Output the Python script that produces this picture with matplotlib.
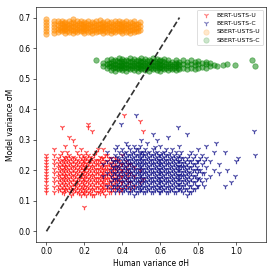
import matplotlib
matplotlib.use("Agg")
import matplotlib.pyplot as plt

# Human variance (x) columns and the model variance values (y) read in each column
bert_u = [
    (0.00, [0.13, 0.14, 0.15, 0.16, 0.17, 0.18, 0.19, 0.20, 0.21, 0.22, 0.23, 0.24, 0.25]),
    (0.04, [0.13, 0.145, 0.16, 0.175, 0.19, 0.205, 0.22, 0.235, 0.25, 0.27]),
    (0.06, [0.135, 0.15, 0.165, 0.18, 0.195, 0.21, 0.225, 0.24]),
    (0.07, [0.14, 0.155, 0.17, 0.185, 0.20, 0.215, 0.23, 0.25]),
    (0.08, [0.13, 0.145, 0.16, 0.175, 0.19, 0.205, 0.22, 0.235, 0.26, 0.34]),
    (0.09, [0.125, 0.14, 0.155, 0.17, 0.185, 0.20, 0.215, 0.23, 0.245]),
    (0.10, [0.135, 0.15, 0.165, 0.18, 0.195, 0.21, 0.225, 0.24, 0.28]),
    (0.11, [0.14, 0.155, 0.17, 0.185, 0.20, 0.215, 0.23, 0.245, 0.26]),
    (0.12, [0.13, 0.145, 0.16, 0.175, 0.19, 0.205, 0.22, 0.235, 0.25, 0.31]),
    (0.13, [0.12, 0.135, 0.15, 0.165, 0.18, 0.195, 0.21, 0.225, 0.24]),
    (0.14, [0.125, 0.14, 0.155, 0.17, 0.185, 0.20, 0.215, 0.23, 0.245, 0.30]),
    (0.15, [0.135, 0.15, 0.165, 0.18, 0.195, 0.21, 0.225, 0.24, 0.28]),
    (0.16, [0.13, 0.145, 0.16, 0.175, 0.19, 0.205, 0.22, 0.235, 0.26]),
    (0.17, [0.125, 0.14, 0.155, 0.17, 0.185, 0.20, 0.215, 0.23, 0.25]),
    (0.18, [0.12, 0.135, 0.15, 0.165, 0.18, 0.195, 0.21, 0.225, 0.24, 0.27]),
    (0.19, [0.13, 0.145, 0.16, 0.175, 0.19, 0.205, 0.22, 0.235, 0.25]),
    (0.20, [0.08, 0.125, 0.14, 0.155, 0.17, 0.185, 0.20, 0.215, 0.23, 0.245]),
    (0.21, [0.12, 0.135, 0.15, 0.165, 0.18, 0.195, 0.21, 0.225, 0.24, 0.26]),
    (0.22, [0.13, 0.145, 0.16, 0.175, 0.19, 0.205, 0.22, 0.235, 0.25, 0.34, 0.35]),
    (0.23, [0.125, 0.14, 0.155, 0.17, 0.185, 0.20, 0.215, 0.23, 0.245]),
    (0.24, [0.12, 0.135, 0.15, 0.165, 0.18, 0.195, 0.21, 0.225, 0.24, 0.33]),
    (0.25, [0.12, 0.14, 0.155, 0.17, 0.185, 0.20, 0.215, 0.23, 0.25]),
    (0.26, [0.13, 0.145, 0.16, 0.175, 0.19, 0.205, 0.22, 0.235, 0.26]),
    (0.27, [0.13, 0.145, 0.16, 0.175, 0.19, 0.205, 0.22, 0.235, 0.27]),
    (0.28, [0.125, 0.14, 0.155, 0.17, 0.185, 0.20, 0.215, 0.23, 0.245]),
    (0.29, [0.135, 0.15, 0.165, 0.18, 0.195, 0.21, 0.225, 0.24]),
    (0.30, [0.13, 0.145, 0.16, 0.175, 0.19, 0.205, 0.22, 0.24, 0.27]),
    (0.31, [0.12, 0.14, 0.155, 0.17, 0.185, 0.20, 0.215, 0.23, 0.25]),
    (0.32, [0.14, 0.155, 0.17, 0.185, 0.20, 0.215, 0.23, 0.25]),
    (0.33, [0.13, 0.145, 0.16, 0.175, 0.19, 0.205, 0.22, 0.24]),
    (0.34, [0.13, 0.15, 0.165, 0.18, 0.195, 0.21, 0.225, 0.24]),
    (0.35, [0.14, 0.155, 0.17, 0.185, 0.20, 0.215, 0.23]),
    (0.36, [0.14, 0.16, 0.175, 0.19, 0.205, 0.22, 0.24]),
    (0.37, [0.145, 0.165, 0.18, 0.20, 0.215, 0.235]),
    (0.38, [0.13, 0.15, 0.17, 0.19, 0.21, 0.23]),
    (0.39, [0.14, 0.16, 0.18, 0.20, 0.22]),
    (0.40, [0.14, 0.16, 0.18, 0.20, 0.22, 0.25]),
    (0.41, [0.38]),
    (0.42, [0.15, 0.17, 0.19, 0.21, 0.23]),
    (0.43, [0.16, 0.18, 0.20, 0.22]),
    (0.44, [0.14, 0.16, 0.19, 0.22]),
    (0.46, [0.15, 0.18, 0.21]),
    (0.49, [0.16, 0.20, 0.36]),
    (0.51, [0.17, 0.33]),
]

bert_c = [
    (0.30, [0.18, 0.22]),
    (0.32, [0.15, 0.19, 0.23, 0.26]),
    (0.34, [0.14, 0.16, 0.18, 0.20, 0.22, 0.24]),
    (0.35, [0.15, 0.17, 0.19, 0.21, 0.23]),
    (0.36, [0.13, 0.15, 0.17, 0.19, 0.21, 0.23, 0.25, 0.27]),
    (0.37, [0.14, 0.155, 0.17, 0.185, 0.20, 0.215, 0.23, 0.245, 0.28]),
    (0.38, [0.135, 0.15, 0.165, 0.18, 0.195, 0.21, 0.225, 0.24, 0.26]),
    (0.39, [0.35]),
    (0.40, [0.13, 0.145, 0.16, 0.175, 0.19, 0.205, 0.22, 0.235, 0.25, 0.27]),
    (0.41, [0.135, 0.15, 0.165, 0.18, 0.195, 0.21, 0.225, 0.24, 0.255]),
    (0.42, [0.14, 0.155, 0.17, 0.185, 0.20, 0.215, 0.23, 0.245, 0.26, 0.29]),
    (0.43, [0.13, 0.145, 0.16, 0.175, 0.19, 0.205, 0.22, 0.235, 0.25, 0.28]),
    (0.44, [0.13, 0.145, 0.16, 0.175, 0.19, 0.205, 0.22, 0.235, 0.25, 0.27]),
    (0.45, [0.135, 0.15, 0.165, 0.18, 0.195, 0.21, 0.225, 0.24, 0.255]),
    (0.46, [0.12, 0.14, 0.155, 0.17, 0.185, 0.20, 0.215, 0.23, 0.245, 0.26, 0.28]),
    (0.47, [0.13, 0.145, 0.16, 0.175, 0.19, 0.205, 0.22, 0.235, 0.25, 0.27, 0.38]),
    (0.48, [0.13, 0.145, 0.16, 0.175, 0.19, 0.205, 0.22, 0.235, 0.25, 0.27]),
    (0.49, [0.135, 0.15, 0.165, 0.18, 0.195, 0.21, 0.225, 0.24, 0.255, 0.28]),
    (0.50, [0.14, 0.155, 0.17, 0.185, 0.20, 0.215, 0.23, 0.245, 0.26, 0.30]),
    (0.51, [0.13, 0.145, 0.16, 0.175, 0.19, 0.205, 0.22, 0.235, 0.25, 0.26]),
    (0.52, [0.13, 0.145, 0.16, 0.175, 0.19, 0.205, 0.22, 0.235, 0.25, 0.27]),
    (0.53, [0.135, 0.15, 0.165, 0.18, 0.195, 0.21, 0.225, 0.24, 0.255, 0.29]),
    (0.54, [0.14, 0.155, 0.17, 0.185, 0.20, 0.215, 0.23, 0.245, 0.26]),
    (0.55, [0.13, 0.145, 0.16, 0.175, 0.19, 0.205, 0.22, 0.235, 0.25]),
    (0.56, [0.13, 0.145, 0.16, 0.175, 0.19, 0.205, 0.22, 0.235, 0.25, 0.27, 0.32]),
    (0.57, [0.135, 0.15, 0.165, 0.18, 0.195, 0.21, 0.225, 0.24, 0.255, 0.275]),
    (0.58, [0.14, 0.155, 0.17, 0.185, 0.20, 0.215, 0.23, 0.245, 0.26, 0.30]),
    (0.59, [0.13, 0.145, 0.16, 0.175, 0.19, 0.205, 0.22, 0.235, 0.25]),
    (0.60, [0.13, 0.145, 0.16, 0.175, 0.19, 0.205, 0.22, 0.235, 0.25, 0.28]),
    (0.61, [0.135, 0.15, 0.165, 0.18, 0.195, 0.21, 0.225, 0.24, 0.255]),
    (0.62, [0.14, 0.155, 0.17, 0.185, 0.20, 0.215, 0.23, 0.245, 0.26]),
    (0.63, [0.13, 0.145, 0.16, 0.175, 0.19, 0.205, 0.22, 0.235, 0.25, 0.27]),
    (0.64, [0.13, 0.145, 0.16, 0.175, 0.19, 0.205, 0.22, 0.235, 0.25, 0.31]),
    (0.65, [0.135, 0.15, 0.165, 0.18, 0.195, 0.21, 0.225, 0.24, 0.255]),
    (0.66, [0.14, 0.155, 0.17, 0.185, 0.20, 0.215, 0.23, 0.245, 0.27]),
    (0.67, [0.13, 0.145, 0.16, 0.175, 0.19, 0.205, 0.22, 0.235, 0.25]),
    (0.68, [0.13, 0.15, 0.165, 0.18, 0.195, 0.21, 0.225, 0.24, 0.26]),
    (0.69, [0.14, 0.155, 0.17, 0.185, 0.20, 0.215, 0.23, 0.245, 0.34]),
    (0.70, [0.14, 0.155, 0.17, 0.185, 0.20, 0.215, 0.23, 0.25, 0.28]),
    (0.71, [0.135, 0.15, 0.165, 0.18, 0.195, 0.21, 0.225, 0.24, 0.26]),
    (0.72, [0.13, 0.15, 0.165, 0.18, 0.195, 0.21, 0.225, 0.24]),
    (0.73, [0.14, 0.155, 0.17, 0.185, 0.20, 0.215, 0.23]),
    (0.74, [0.12, 0.14, 0.16, 0.175, 0.19, 0.205, 0.22, 0.24, 0.32]),
    (0.75, [0.13, 0.15, 0.165, 0.18, 0.195, 0.21, 0.23, 0.25]),
    (0.76, [0.13, 0.15, 0.17, 0.19, 0.21, 0.23, 0.26]),
    (0.77, [0.14, 0.16, 0.18, 0.20, 0.22, 0.24]),
    (0.78, [0.14, 0.16, 0.18, 0.20, 0.22, 0.25]),
    (0.79, [0.15, 0.17, 0.19, 0.21, 0.23]),
    (0.80, [0.15, 0.175, 0.20, 0.23, 0.27]),
    (0.81, [0.17, 0.20, 0.24]),
    (0.82, [0.16, 0.19, 0.22, 0.25]),
    (0.83, [0.15, 0.19, 0.23]),
    (0.84, [0.17, 0.21, 0.24, 0.28]),
    (0.86, [0.18, 0.23]),
    (0.88, [0.20, 0.26]),
    (0.89, [0.29]),
    (0.91, [0.19, 0.22]),
    (0.94, [0.15, 0.26]),
    (0.95, [0.20]),
    (0.97, [0.16]),
    (0.99, [0.18]),
    (1.00, [0.23]),
    (1.01, [0.24]),
    (1.09, [0.33]),
    (1.10, [0.25]),
]

sbert_u = [
    (0.00, [0.645, 0.655, 0.665, 0.675, 0.685, 0.695]),
    (0.04, [0.65, 0.66, 0.67, 0.68, 0.69]),
    (0.06, [0.652, 0.664, 0.676, 0.688]),
    (0.07, [0.658, 0.67, 0.682]),
    (0.08, [0.655, 0.667, 0.679, 0.69]),
    (0.09, [0.658, 0.67, 0.682]),
    (0.10, [0.65, 0.662, 0.674, 0.686]),
    (0.11, [0.656, 0.668, 0.68]),
    (0.12, [0.653, 0.665, 0.677, 0.689]),
    (0.13, [0.658, 0.67, 0.682]),
    (0.14, [0.648, 0.66, 0.672, 0.684, 0.694]),
    (0.15, [0.656, 0.668, 0.68]),
    (0.16, [0.652, 0.664, 0.676, 0.688]),
    (0.17, [0.658, 0.67, 0.682]),
    (0.18, [0.655, 0.667, 0.679, 0.69]),
    (0.19, [0.656, 0.668, 0.68]),
    (0.20, [0.65, 0.662, 0.674, 0.686]),
    (0.21, [0.658, 0.67, 0.682]),
    (0.22, [0.653, 0.665, 0.677, 0.689]),
    (0.23, [0.656, 0.668, 0.68]),
    (0.24, [0.648, 0.66, 0.672, 0.684]),
    (0.25, [0.658, 0.67, 0.682]),
    (0.26, [0.652, 0.664, 0.676, 0.688]),
    (0.27, [0.656, 0.668, 0.68]),
    (0.28, [0.655, 0.667, 0.679, 0.692]),
    (0.29, [0.658, 0.67, 0.682]),
    (0.30, [0.65, 0.662, 0.674, 0.686]),
    (0.31, [0.656, 0.668, 0.68]),
    (0.32, [0.653, 0.665, 0.677, 0.689]),
    (0.33, [0.658, 0.67, 0.682]),
    (0.34, [0.648, 0.66, 0.672, 0.684]),
    (0.35, [0.656, 0.668, 0.68]),
    (0.36, [0.652, 0.664, 0.676, 0.688]),
    (0.37, [0.658, 0.67, 0.682]),
    (0.38, [0.655, 0.667, 0.679, 0.69]),
    (0.39, [0.656, 0.668, 0.68]),
    (0.40, [0.65, 0.662, 0.674, 0.686]),
    (0.41, [0.658, 0.67, 0.682]),
    (0.42, [0.653, 0.665, 0.677, 0.689]),
    (0.43, [0.656, 0.668, 0.68]),
    (0.44, [0.648, 0.66, 0.672, 0.684]),
    (0.45, [0.658, 0.67, 0.682]),
    (0.46, [0.652, 0.664, 0.676, 0.688]),
    (0.47, [0.656, 0.668, 0.68]),
    (0.48, [0.655, 0.667, 0.679]),
    (0.49, [0.66, 0.672, 0.684]),
]

sbert_c = [
    (0.26, [0.56]),
    (0.30, [0.54, 0.55]),
    (0.32, [0.535, 0.548, 0.56]),
    (0.33, [0.54, 0.552]),
    (0.34, [0.528, 0.54, 0.552, 0.564]),
    (0.35, [0.534, 0.546, 0.558]),
    (0.36, [0.525, 0.537, 0.549, 0.561]),
    (0.37, [0.534, 0.546, 0.558]),
    (0.38, [0.53, 0.542, 0.554, 0.566]),
    (0.39, [0.534, 0.546, 0.558]),
    (0.40, [0.528, 0.54, 0.552, 0.564]),
    (0.41, [0.534, 0.546, 0.558]),
    (0.42, [0.525, 0.537, 0.549, 0.561]),
    (0.43, [0.534, 0.546, 0.558]),
    (0.44, [0.53, 0.542, 0.554, 0.566]),
    (0.45, [0.534, 0.546, 0.558]),
    (0.46, [0.528, 0.54, 0.552, 0.564]),
    (0.47, [0.534, 0.546, 0.558]),
    (0.48, [0.525, 0.537, 0.549, 0.561]),
    (0.49, [0.534, 0.546, 0.558]),
    (0.50, [0.53, 0.542, 0.554, 0.566]),
    (0.51, [0.534, 0.546, 0.558]),
    (0.52, [0.528, 0.54, 0.552, 0.564]),
    (0.53, [0.534, 0.546, 0.558]),
    (0.54, [0.525, 0.537, 0.549, 0.561]),
    (0.55, [0.534, 0.546, 0.558]),
    (0.56, [0.53, 0.542, 0.554, 0.566]),
    (0.57, [0.534, 0.546, 0.558]),
    (0.58, [0.528, 0.54, 0.552, 0.564]),
    (0.59, [0.534, 0.546, 0.558]),
    (0.60, [0.525, 0.537, 0.549, 0.561]),
    (0.61, [0.534, 0.546, 0.558]),
    (0.62, [0.53, 0.542, 0.554, 0.563]),
    (0.63, [0.536, 0.548]),
    (0.64, [0.528, 0.54, 0.552, 0.562]),
    (0.65, [0.536, 0.548]),
    (0.66, [0.53, 0.542, 0.554]),
    (0.67, [0.536, 0.548]),
    (0.68, [0.528, 0.54, 0.552, 0.562]),
    (0.69, [0.536, 0.548]),
    (0.70, [0.532, 0.544, 0.556]),
    (0.72, [0.535, 0.548, 0.56]),
    (0.74, [0.532, 0.544, 0.556]),
    (0.76, [0.535, 0.548, 0.56]),
    (0.78, [0.532, 0.544, 0.556]),
    (0.80, [0.535, 0.548, 0.558]),
    (0.82, [0.538, 0.55]),
    (0.84, [0.535, 0.547, 0.556]),
    (0.86, [0.54, 0.55]),
    (0.88, [0.545]),
    (0.90, [0.543]),
    (0.93, [0.545]),
    (0.95, [0.548]),
    (0.99, [0.546]),
    (1.08, [0.56]),
    (1.10, [0.543]),
]


def flatten(cols):
    xs, ys = [], []
    for x, col in cols:
        for y in col:
            xs.append(x)
            ys.append(y)
    return xs, ys


fig, ax = plt.subplots(figsize=(5, 5), dpi=55)

x, y = flatten(bert_u)
ax.scatter(x, y, marker='1', s=50, linewidths=1.6, color='red', alpha=0.7, label='BERT-USTS-U')
x, y = flatten(bert_c)
ax.scatter(x, y, marker='1', s=50, linewidths=1.6, color='navy', alpha=0.7, label='BERT-USTS-C')
x, y = flatten(sbert_u)
ax.scatter(x, y, s=50, color='darkorange', alpha=0.5, label='SBERT-USTS-U')
x, y = flatten(sbert_c)
ax.scatter(x, y, s=50, color='green', alpha=0.5, label='SBERT-USTS-C')

ax.plot([0, 0.7], [0, 0.7], 'k--', lw=2.2, alpha=0.8)

ax.set_xlabel('Human variance σH')
ax.set_ylabel('Model variance σM')
leg = ax.legend(loc='upper right', fontsize=8)
for h in leg.legend_handles[:2]:
    h.set_alpha(0.5)
for h in leg.legend_handles[2:]:
    h.set_alpha(0.2)

plt.subplots_adjust(left=0.131, right=0.967, top=0.975, bottom=0.12)
plt.savefig('out.png')
